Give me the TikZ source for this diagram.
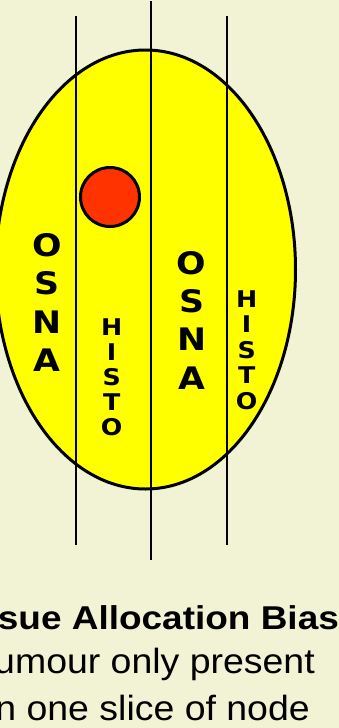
\documentclass[tikz,border=0pt]{standalone}
\usepackage{fontspec}
\setmainfont{Liberation Sans}
\newfontfamily\labelfont{DejaVu Sans}
\usepackage{graphicx}
\definecolor{bg}{RGB}{242,242,212}
\definecolor{nodeyellow}{RGB}{255,255,0}
\definecolor{tumour}{RGB}{255,51,0}
\begin{document}
\begin{tikzpicture}[x=1pt,y=-1pt,
  slice/.style={line width=2.3pt},
  shapeline/.style={line width=3pt},
  osna/.style={font=\labelfont\fontsize{31}{38}\selectfont\bfseries, inner sep=0pt, anchor=base},
  histo/.style={font=\labelfont\fontsize{23}{26}\selectfont\bfseries, inner sep=0pt, anchor=base},
  title/.style={font=\fontsize{33}{38}\selectfont\bfseries, inner sep=0pt},
  body/.style={font=\fontsize{35}{40}\selectfont, inner sep=0pt}]
\fill[bg] (0,0) rectangle (339,728);
\useasboundingbox (0,0) rectangle (339,728);
% lymph node
\filldraw[fill=nodeyellow, shapeline] (145.5,269.5) ellipse [x radius=150, y radius=219.5];
% slices
\coordinate (s1t) at (76,16);   \coordinate (s1b) at (76,545);
\coordinate (s2t) at (151,1);   \coordinate (s2b) at (151,560);
\coordinate (s3t) at (227,16);  \coordinate (s3b) at (227,545);
\draw[slice] (s1t) -- (s1b);
\draw[slice] (s2t) -- (s2b);
\draw[slice] (s3t) -- (s3b);
% tumour
\filldraw[fill=tumour, shapeline] (110,197) circle [radius=29.5];
% labels
\foreach \l [count=\i] in {O,S,N,A}
  \node[osna] (osnaL\i) at (47.2,{256.5+38.4*(\i-1)}) {\scalebox{1.12}[1]{\l}};
\foreach \l [count=\i] in {O,S,N,A}
  \node[osna] (osnaR\i) at (191.7,{274+38.4*(\i-1)}) {\scalebox{1.12}[1]{\l}};
\foreach \l [count=\i] in {H,I,S,T,O}
  \node[histo] (histoL\i) at (111.7,{335+25*(\i-1)}) {\scalebox{1.1}[1]{\l}};
\foreach \l [count=\i] in {H,I,S,T,O}
  \node[histo] (histoR\i) at (246.7,{307+25.5*(\i-1)}) {\scalebox{1.1}[1]{\l}};
% caption
\node[title, anchor=base west] (cap1) at (-55,629) {\scalebox{1.12}[1]{Tissue Allocation Bias}};
\node[body, anchor=base east] (cap2) at (315,673.5) {\scalebox{1.07}[1]{Tumour only present}};
\node[body, anchor=base east] (cap3) at (310,720) {\scalebox{1.07}[1]{in one slice of node}};
\end{tikzpicture}
\end{document}
